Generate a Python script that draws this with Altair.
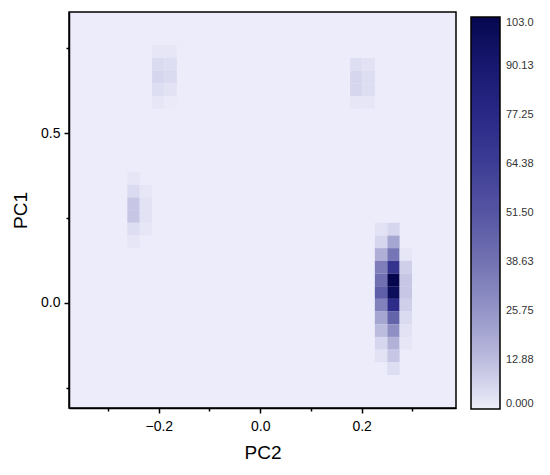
import altair as alt
import pandas as pd

# ---- data: 2D histogram cells (bin centres) ----
# main cluster (bottom right)
hot_mid_pc2 = 0.2626
hot_mid_pc1 = [0.2172, 0.1798, 0.1426, 0.1053, 0.0680, 0.0307, -0.0067, -0.0440, -0.0813, -0.1186, -0.1558, -0.1932]
hot_mid_cnt = [6, 20, 37, 70, 103, 98, 75, 45, 28, 16, 10, 4]

hot_left_pc2 = 0.2382
hot_left_pc1 = [0.2172, 0.1798, 0.1426, 0.1053, 0.0680, 0.0307, -0.0067, -0.0440, -0.0813, -0.1186, -0.1558]
hot_left_cnt = [3, 6, 17, 34, 40, 47, 33, 20, 13, 6, 3]

hot_right_pc2 = 0.2870
hot_right_pc1 = [0.1426, 0.1053, 0.0680, 0.0307, -0.0067, -0.0440, -0.0813, -0.1186]
hot_right_cnt = [2, 8, 10, 10, 8, 5, 3, 2]

# left cluster
left_a_pc2 = -0.2498
left_a_pc1 = [0.3664, 0.3290, 0.2918, 0.2544, 0.2172, 0.1798]
left_a_cnt = [2, 5, 10, 10, 4, 2]
left_b_pc2 = -0.2254
left_b_pc1 = [0.3290, 0.2918, 0.2544, 0.2172]
left_b_cnt = [2, 3, 3, 2]

# top-left cluster
tl_a_pc2 = -0.2010
tl_a_pc1 = [0.7393, 0.7020, 0.6647, 0.6274, 0.5901]
tl_a_cnt = [2, 5, 6, 4, 2]
tl_b_pc2 = -0.1766
tl_b_pc1 = [0.7393, 0.7020, 0.6647, 0.6274, 0.5901]
tl_b_cnt = [2, 4, 5, 3, 1]

# top-right cluster
tr_a_pc2 = 0.1894
tr_a_pc1 = [0.7020, 0.6647, 0.6274, 0.5901]
tr_a_cnt = [4, 6, 6, 2]
tr_b_pc2 = 0.2138
tr_b_pc1 = [0.7020, 0.6647, 0.6274, 0.5901]
tr_b_cnt = [3, 4, 4, 2]

PC2_BIN = 0.0244
PC1_BIN = 0.0373

legend_values = [0, 12.875, 25.75, 38.625, 51.5, 64.375, 77.25, 90.125, 103]
colors = ["#eeeefb", "#bcbcdf", "#9595c8", "#7272b3", "#5555a3",
          "#3d3d96", "#292986", "#181870", "#06064e"]

columns = [
    (hot_mid_pc2, hot_mid_pc1, hot_mid_cnt),
    (hot_left_pc2, hot_left_pc1, hot_left_cnt),
    (hot_right_pc2, hot_right_pc1, hot_right_cnt),
    (left_a_pc2, left_a_pc1, left_a_cnt),
    (left_b_pc2, left_b_pc1, left_b_cnt),
    (tl_a_pc2, tl_a_pc1, tl_a_cnt),
    (tl_b_pc2, tl_b_pc1, tl_b_cnt),
    (tr_a_pc2, tr_a_pc1, tr_a_cnt),
    (tr_b_pc2, tr_b_pc1, tr_b_cnt),
]
rows = []
for x, ys, cs in columns:
    for y, c in zip(ys, cs):
        rows.append({"pc2": x, "pc1": y, "count": c})
df = pd.DataFrame(rows)

xscale = alt.Scale(domain=[-0.377, 0.386], nice=False, zero=False)
yscale = alt.Scale(domain=[-0.309, 0.856], nice=False, zero=False)

chart = (
    alt.Chart(df)
    .transform_calculate(
        x0=f"datum.pc2 - {PC2_BIN / 2}",
        x1=f"datum.pc2 + {PC2_BIN / 2}",
        y0=f"datum.pc1 - {PC1_BIN / 2}",
        y1=f"datum.pc1 + {PC1_BIN / 2}",
    )
    .mark_rect(strokeWidth=0)
    .encode(
        x=alt.X("x0:Q", scale=xscale, title="PC2",
                axis=alt.Axis(values=[-0.3, -0.2, -0.1, 0, 0.1, 0.2, 0.3],
                              labelExpr="round(datum.value*10) % 2 == 0 ? format(datum.value, '.1f') : ''",
                              tickSize={"condition": {"test": "round(datum.value*10) % 2 == 0", "value": 5}, "value": 3},
                              labelPadding=6, titlePadding=10)),
        x2="x1:Q",
        y=alt.Y("y0:Q", scale=yscale, title="PC1",
                axis=alt.Axis(values=[-0.25, 0, 0.25, 0.5, 0.75],
                              labelExpr="round(datum.value*4) % 2 == 0 ? format(datum.value, '.1f') : ''",
                              tickSize={"condition": {"test": "round(datum.value*4) % 2 == 0", "value": 5}, "value": 3},
                              labelPadding=4, titlePadding=10)),
        y2="y1:Q",
        color=alt.Color("count:Q",
                        scale=alt.Scale(domain=[0, 103], range=colors),
                        legend=alt.Legend(
                            title=None, orient="none", legendX=402, legendY=5,
                            direction="vertical",
                            gradientLength=392, gradientThickness=29,
                            gradientStrokeColor="black", gradientStrokeWidth=1.5,
                            values=legend_values,
                            labelExpr="datum.value == 0 ? '0.000' : (datum.value >= 100 ? format(datum.value, '.1f') : format(datum.value, '.2f'))",
                            labelOverlap=False, labelFontSize=11, labelColor="#333",
                            labelFont="Liberation Sans", labelOffset=6)),
    )
    .properties(
        width=387, height=396,
        autosize=alt.AutoSizeParams(type="none"),
        padding={"left": 61, "top": 4, "right": 86, "bottom": 56},
    )
    .configure_view(fill="#ececfb", stroke="black", strokeWidth=1.5)
    .configure_axis(domainColor="black", domainWidth=1.5, tickColor="black",
                    tickWidth=1.5, labelColor="black", titleColor="black",
                    labelFont="Liberation Sans", titleFont="Liberation Sans",
                    labelFontSize=14, titleFontSize=19, titleFontWeight="normal",
                    grid=False)
)

chart.save("out.html", embed_options={"renderer": "svg", "actions": False})
